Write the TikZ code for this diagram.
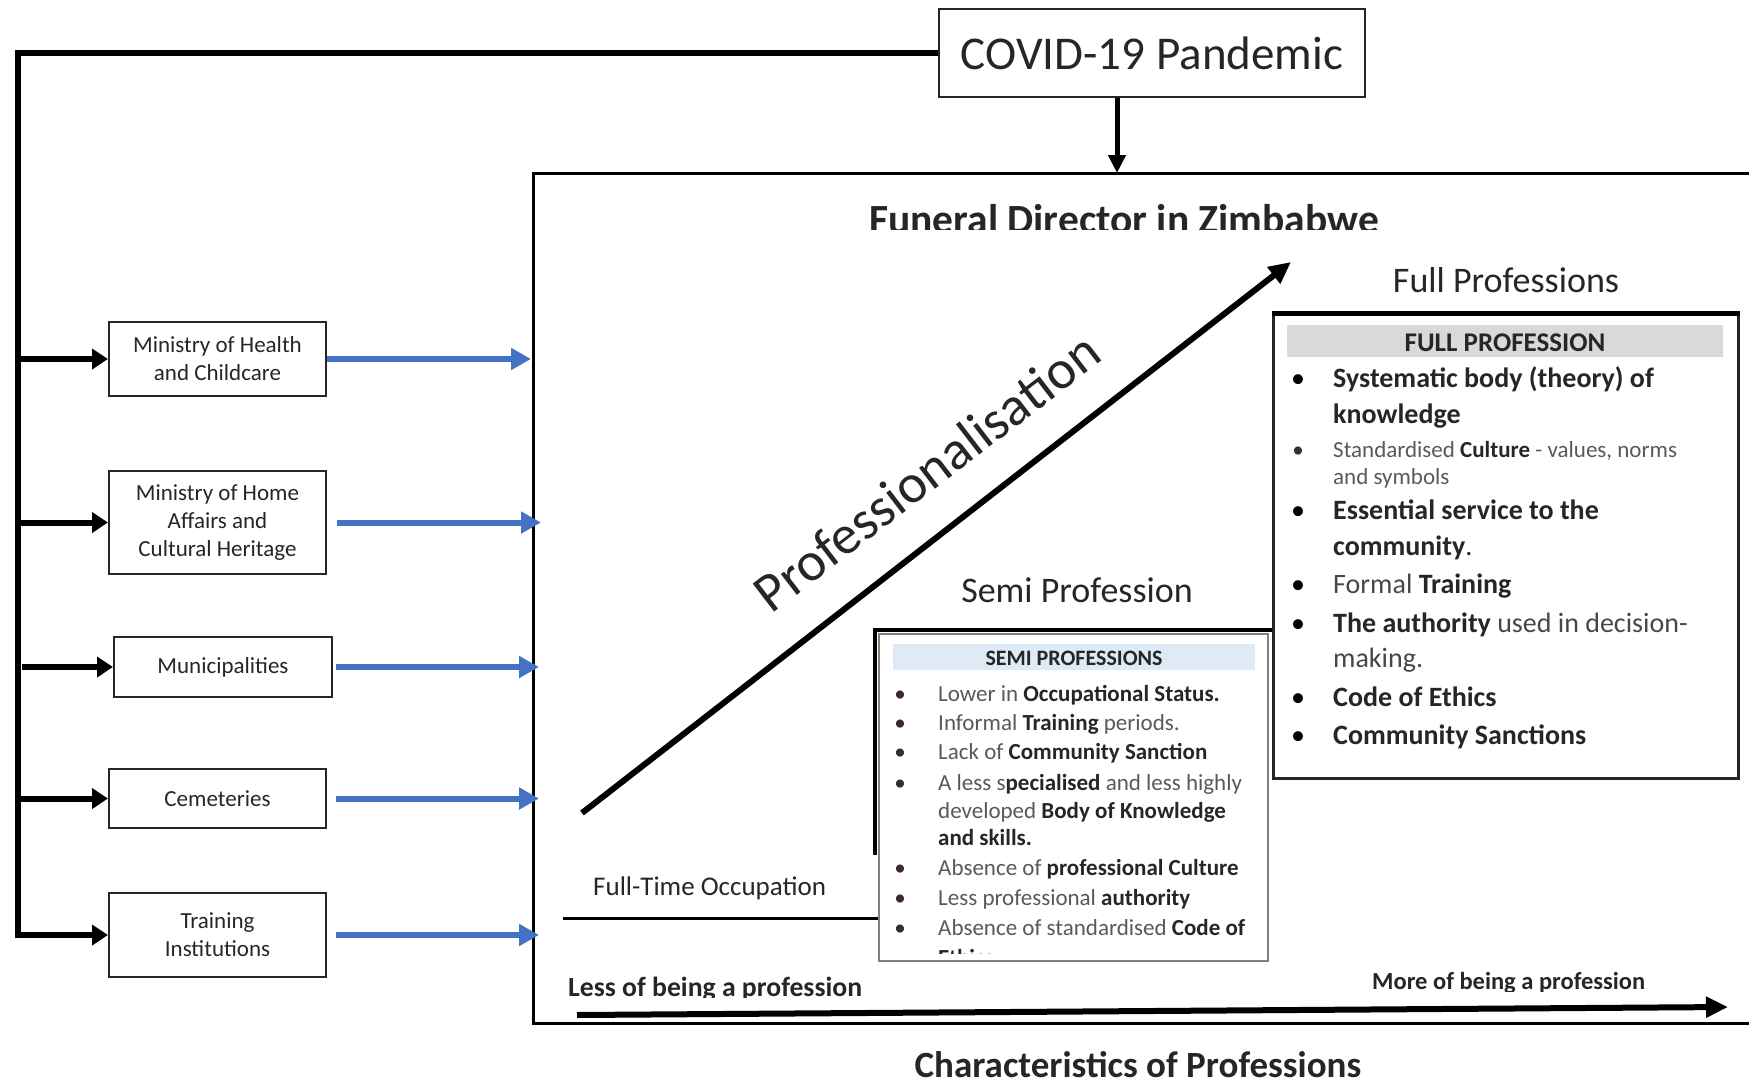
\documentclass[tikz,border=0pt]{standalone}
\usepackage{fontspec}
\setmainfont{Carlito}
\usetikzlibrary{arrows.meta}
\definecolor{txt}{HTML}{262626}
\definecolor{soft}{HTML}{595959}
\definecolor{blu}{HTML}{4472C4}
\definecolor{hdrgray}{HTML}{D9D9D9}
\definecolor{hdrblue}{HTML}{DEEAF6}
\definecolor{dotc}{HTML}{3B2B2B}
\newcommand\fsz[2]{\fontsize{#1}{#2}\selectfont}
\begin{document}
\begin{tikzpicture}[x=1pt,y=-1pt,
  box/.style={draw=black!85, line width=2pt, inner sep=0pt, align=center, text=txt, font=\fsz{23}{28}},
  busline/.style={line width=6pt, -{Triangle[length=16pt,width=20pt]}},
  bluearrow/.style={draw=blu, line width=6pt, -{Triangle[length=20pt,width=21pt]}},
  bigarrow/.style={line width=6pt, -{Triangle[length=22pt,width=20pt]}},
  lbl/.style={inner sep=0pt, anchor=base, text=txt},
  item/.style={inner sep=0pt, anchor=base west},
  fitem/.style={item, text=txt, font=\fsz{28}{36}},
  fsmall/.style={item, text=soft, font=\fsz{23}{28}},
  sitem/.style={item, text=soft, font=\fsz{23}{30}},
  fdot/.style={inner sep=0pt, anchor=base, text=black, font=\fsz{28}{36}},
  sdot/.style={inner sep=0pt, anchor=base, text=dotc, font=\fsz{23}{30}},
]
\useasboundingbox (0,0) rectangle (1749,1080);

% COVID box
\node[box, minimum width=426pt, minimum height=88pt, font=\fsz{47}{56}, line width=1.8pt] (covid) at (1152,53) {COVID-19 Pandemic};

% left boxes
\node[box, minimum width=217pt, minimum height=74pt] (health) at (217.5,359) {Ministry of Health\\and Childcare};
\node[box, minimum width=217pt, minimum height=103pt] (home) at (217.5,522.5) {Ministry of Home\\Affairs and\\Cultural Heritage};
\node[box, minimum width=218pt, minimum height=60pt] (muni) at (223,667) {Municipalities};
\node[box, minimum width=217pt, minimum height=59pt] (cem) at (217.5,798.5) {Cemeteries};
\node[box, minimum width=217pt, minimum height=84pt] (train) at (217.5,935) {Training\\Institutions};

% bus from COVID
\coordinate (bustop) at (18,53);
\coordinate (busbot) at (18,935);
\draw[busline] (covid.west) -- (bustop) -- (busbot) -- (train.west);
\draw[busline] (bustop |- health.west) -- (health.west);
\draw[busline] (bustop |- home.west) -- (home.west);
\draw[busline] ([xshift=4pt]bustop |- muni.west) -- (muni.west);
\draw[busline] (bustop |- cem.west) -- (cem.west);

% frame
\coordinate (fl) at (533,173);
\draw[line width=3pt] (1755,173) -- (fl) -- (533,1023) -- (1755,1023);
\coordinate (ftop) at (1117,173);
\draw[line width=5pt, -{Triangle[length=18pt,width=17pt]}] (ftop |- covid.south) -- (ftop);

% blue arrows
\draw[bluearrow] (health.east) -- ([xshift=-2pt]health.east -| fl);
\draw[bluearrow] ([xshift=10pt]home.east) -- ([xshift=8pt]home.east -| fl);
\draw[bluearrow] ([xshift=3pt]muni.east) -- ([xshift=6pt]muni.east -| fl);
\draw[bluearrow] ([xshift=9pt]cem.east) -- ([xshift=6pt]cem.east -| fl);
\draw[bluearrow] ([xshift=9pt]train.east) -- ([xshift=6pt]train.east -| fl);

% title
\begin{scope}
\clip (540,180) rectangle (1700,229);
\node[lbl, font=\bfseries\fsz{41.5}{48}] (title) at (1124,233) {Funeral Director in Zimbabwe};
\end{scope}

% diagonal
\coordinate (d0) at (582,813);
\coordinate (d1) at (1291,262);
\draw[bigarrow] (d0) -- (d1);
\node[lbl, rotate=37.5, font=\fsz{55}{62}] (prof) at (938,487) {Professionalisation};

% labels
\node[lbl, font=\fsz{36}{42}] (fullp) at (1506,292) {Full Professions};
\node[lbl, font=\fsz{36}{42}] (semip) at (1077,602) {Semi Profession};
\node[item, text=txt, font=\fsz{27}{32}] (fto) at (593,895) {Full-Time Occupation};

% full profession box
\node[draw=black!85, line width=2.5pt, minimum width=465pt, minimum height=464pt, inner sep=0pt, anchor=north west] (fullbox) at (1272,313) {};
\draw[line width=5pt] (fullbox.north west) -- (fullbox.north east);
\fill[hdrgray] (1287,325) rectangle (1723,357);
\node[lbl, font=\bfseries\fsz{27}{32}] (fhead) at (1505,351) {FULL PROFESSION};

\node[fdot] (fb1) at (1298,387) {\textbullet};
\node[fitem] (f1) at (1333,387) {\textbf{Systematic body (theory) of}};
\node[fitem] (f2) at (1333,423) {\textbf{knowledge}};
\node[sdot] (fb2) at (1298,457) {\textbullet};
\node[fsmall] (f3) at (1333,457) {Standardised \textcolor{txt}{\textbf{Culture}} - values, norms};
\node[fsmall] (f4) at (1333,484) {and symbols};
\node[fdot] (fb3) at (1298,519) {\textbullet};
\node[fitem] (f5) at (1333,519) {\textbf{Essential service to the}};
\node[fitem] (f6) at (1333,555) {\textbf{community}.};
\node[fdot] (fb4) at (1298,593) {\textbullet};
\node[fitem] (f7) at (1333,593) {\textcolor{soft!80!black}{Formal} \textbf{Training}};
\node[fdot] (fb5) at (1298,632) {\textbullet};
\node[fitem] (f8) at (1333,632) {\textbf{The authority} \textcolor{soft!80!black}{used in decision-}};
\node[fitem, text=soft!80!black] (f9) at (1333,667) {making.};
\node[fdot] (fb6) at (1298,706) {\textbullet};
\node[fitem] (f10) at (1333,706) {\textbf{Code of Ethics}};
\node[fdot] (fb7) at (1298,744) {\textbullet};
\node[fitem] (f11) at (1333,744) {\textbf{Community Sanctions}};

% semi profession box
\node[draw=gray, line width=1.5pt, minimum width=389pt, minimum height=327pt, inner sep=0pt, anchor=north west, fill=white] (semibox) at (878,633) {};
\draw[line width=4.5pt] (875,855) -- (875,630) -- (fullbox.west |- 0,630);
\draw[line width=3pt] (563,918) -- (semibox.west |- 0,918);
\fill[hdrblue] (893,644) rectangle (1255,670);
\node[lbl, font=\bfseries\fsz{22}{28}] (shead) at (1074,665) {SEMI PROFESSIONS};

\node[sdot] (sb1) at (900,701) {\textbullet};
\node[sitem] (s1) at (938,701) {Lower in \textcolor{txt}{\textbf{Occupational Status.}}};
\node[sdot] (sb2) at (900,730) {\textbullet};
\node[sitem] (s2) at (938,730) {Informal \textcolor{txt}{\textbf{Training}} periods.};
\node[sdot] (sb3) at (900,759) {\textbullet};
\node[sitem] (s3) at (938,759) {Lack of \textcolor{txt}{\textbf{Community Sanction}}};
\node[sdot] (sb4) at (900,790) {\textbullet};
\node[sitem] (s4) at (938,790) {A less s\textcolor{txt}{\textbf{pecialised}} and less highly};
\node[sitem] (s5) at (938,818) {developed \textcolor{txt}{\textbf{Body of Knowledge}}};
\node[sitem, text=txt] (s6) at (938,845) {\textbf{and skills.}};
\node[sdot] (sb5) at (900,875) {\textbullet};
\node[sitem] (s7) at (938,875) {Absence of \textcolor{txt}{\textbf{professional Culture}}};
\node[sdot] (sb6) at (900,905) {\textbullet};
\node[sitem] (s8) at (938,905) {Less professional \textcolor{txt}{\textbf{authority}}};
\node[sdot] (sb7) at (900,935) {\textbullet};
\node[sitem] (s9) at (938,935) {Absence of standardised \textcolor{txt}{\textbf{Code of}}};
\begin{scope}
\clip (880,940) rectangle (1265,953);
\node[sitem, text=txt] (s10) at (938,965) {\textbf{Ethics.}};
\end{scope}

% bottom axis
\coordinate (b0) at (577,1015);
\coordinate (b1) at (1728,1007);
\draw[bigarrow] (b0) -- (b1);
\begin{scope}
\clip (540,950) rectangle (900,997);
\node[item, text=txt, font=\bfseries\fsz{27.7}{32}] (less) at (568,996) {Less of being a profession};
\end{scope}
\begin{scope}
\clip (1330,940) rectangle (1720,991);
\node[item, text=txt, font=\bfseries\fsz{24.5}{30}] (more) at (1372,989) {More of being a profession};
\end{scope}
\node[lbl, font=\bfseries\fsz{37}{42}] (chars) at (1138,1077) {Characteristics of Professions};
\end{tikzpicture}
\end{document}
